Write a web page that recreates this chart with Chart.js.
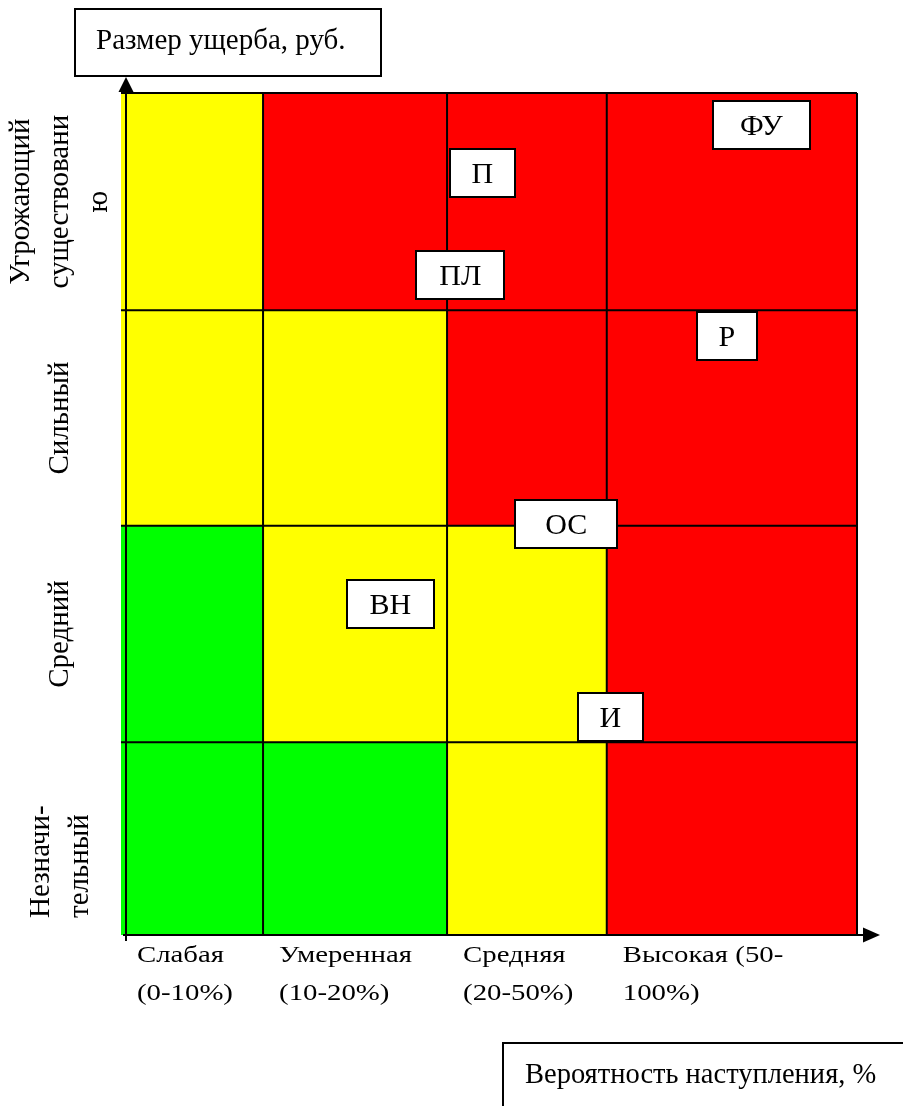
<!DOCTYPE html>
<html>
<head>
<meta charset="utf-8">
<script src="https://cdn.jsdelivr.net/npm/chart.js@4.4.1/dist/chart.umd.min.js"></script>
<style>
  html, body { margin: 0; padding: 0; background: #fff; }
  #wrap { width: 903px; height: 1106px; position: relative; }
</style>
</head>
<body>
<div id="wrap"><canvas id="chart-matrix"></canvas></div>
<script>
// axis units: 0..100 along each side of the matrix (not to scale, as in the source)
const colEdges = [0, 19.3, 44.3, 66.0, 100];
const rowEdges = [0, 22.9, 48.6, 74.2, 100];

const probLabels = [
  ['Слабая', '(0-10%)'],
  ['Умеренная', '(10-20%)'],
  ['Средняя', '(20-50%)'],
  ['Высокая (50-', '100%)'],
];
// bottom -> top
const damageLabels = [
  ['Незначи-', 'тельный'],
  ['Средний'],
  ['Сильный'],
  ['Угрожающий', 'существовани', 'ю'],
];

// zone of each cell, rows bottom -> top, cols left -> right (0 green, 1 yellow, 2 red)
const zones = [
  [0, 0, 1, 2],
  [0, 1, 1, 2],
  [1, 1, 2, 2],
  [1, 2, 2, 2],
];

const riskCodes = ['ФУ', 'П', 'ПЛ', 'Р', 'ОС', 'ВН', 'И'];
const riskX = [87.0, 49.1, 46.1, 82.3, 60.5, 36.6, 66.5];
const riskY = [96.2, 90.5, 78.4, 71.1, 48.8, 39.3, 25.9];

const yTitle = 'Размер ущерба, руб.';
const xTitle = 'Вероятность наступления, %';

// styles
const zoneColors = ['#00ff00', '#ffff00', '#ff0000'];
const boxWidths = [97, 65, 88, 60, 102, 87, 65];
const SERIF = '"Liberation Serif", "Times New Roman", serif';

function boxedText(ctx, text, left, top, w, h, tx, ty) {
  ctx.fillStyle = '#fff';
  ctx.fillRect(left, top, w, h);
  ctx.strokeStyle = '#000';
  ctx.lineWidth = 2;
  ctx.strokeRect(left, top, w, h);
  ctx.fillStyle = '#000';
  ctx.fillText(text, tx, ty);
}

const matrixPlugin = {
  id: 'matrix',
  beforeDatasetsDraw(chart) {
    const { ctx, chartArea: a, scales: { x, y } } = chart;
    ctx.save();

    zones.forEach((row, r) => {
      row.forEach((z, c) => {
        const x0 = x.getPixelForValue(colEdges[c]);
        const x1 = x.getPixelForValue(colEdges[c + 1]);
        const y0 = y.getPixelForValue(rowEdges[r + 1]);
        const y1 = y.getPixelForValue(rowEdges[r]);
        ctx.fillStyle = zoneColors[z];
        ctx.fillRect(x0, y0, x1 - x0, y1 - y0);
      });
    });

    ctx.strokeStyle = '#000';
    ctx.lineWidth = 2;
    ctx.beginPath();
    colEdges.slice(1).forEach(v => {
      const px = x.getPixelForValue(v);
      ctx.moveTo(px, a.top);
      ctx.lineTo(px, a.bottom);
    });
    rowEdges.slice(1).forEach(v => {
      const py = y.getPixelForValue(v);
      ctx.moveTo(a.left, py);
      ctx.lineTo(a.right, py);
    });
    // axes
    const ax = a.left + 5;
    ctx.moveTo(ax, a.bottom + 6);
    ctx.lineTo(ax, a.top - 2);
    ctx.moveTo(a.left + 2, a.bottom);
    ctx.lineTo(a.right + 7, a.bottom);
    ctx.stroke();

    ctx.fillStyle = '#000';
    ctx.beginPath();
    ctx.moveTo(ax, a.top - 16);
    ctx.lineTo(ax - 7.5, a.top - 1);
    ctx.lineTo(ax + 7.5, a.top - 1);
    ctx.closePath();
    ctx.fill();
    ctx.beginPath();
    ctx.moveTo(a.right + 23, a.bottom);
    ctx.lineTo(a.right + 6, a.bottom - 7.5);
    ctx.lineTo(a.right + 6, a.bottom + 7.5);
    ctx.closePath();
    ctx.fill();

    ctx.restore();
  },

  afterDatasetsDraw(chart) {
    const { ctx, chartArea: a, scales: { x, y } } = chart;
    ctx.save();

    // risk markers
    ctx.font = '30px ' + SERIF;
    ctx.textAlign = 'center';
    ctx.textBaseline = 'alphabetic';
    chart.getDatasetMeta(0).data.forEach((pt, i) => {
      const w = boxWidths[i];
      const h = 48;
      boxedText(ctx, riskCodes[i], Math.round(pt.x - w / 2), Math.round(pt.y - h / 2), w, h, pt.x, pt.y + 10);
    });

    // probability labels (stretched horizontally like the source)
    ctx.textAlign = 'left';
    ctx.font = '24px ' + SERIF;
    probLabels.forEach((lines, c) => {
      const px = x.getPixelForValue(colEdges[c]) + 16;
      lines.forEach((line, i) => {
        ctx.save();
        ctx.translate(px, a.bottom + 27 + i * 38);
        ctx.scale(1.2, 1);
        ctx.fillText(line, 0, 0);
        ctx.restore();
      });
    });

    // damage labels, rotated
    ctx.font = '29px ' + SERIF;
    damageLabels.forEach((lines, r) => {
      const top = y.getPixelForValue(rowEdges[r + 1]);
      const bottom = y.getPixelForValue(rowEdges[r]);
      const start = r === 0;
      lines.forEach((line, i) => {
        const bx = a.left - 53 + (i - (lines.length - 1) / 2) * 39;
        ctx.save();
        ctx.translate(bx, start ? bottom - 17 : (top + bottom) / 2);
        ctx.rotate(-Math.PI / 2);
        ctx.textAlign = start ? 'left' : 'center';
        ctx.fillText(line, 0, 0);
        ctx.restore();
      });
    });

    // axis titles
    ctx.textAlign = 'left';
    ctx.font = '29px ' + SERIF;
    boxedText(ctx, yTitle, 75, 9, 306, 67, 96, 49);
    ctx.font = '28.5px ' + SERIF;
    boxedText(ctx, xTitle, 503, 1043, 420, 80, 525, 1083);

    ctx.restore();
  },
};

new Chart(document.getElementById('chart-matrix'), {
  type: 'scatter',
  data: {
    datasets: [{
      label: 'Риски',
      data: riskCodes.map((_, i) => ({ x: riskX[i], y: riskY[i] })),
      pointRadius: 0,
      pointHoverRadius: 0,
    }],
  },
  options: {
    responsive: true,
    maintainAspectRatio: false,
    animation: false,
    events: [],
    layout: { padding: { left: 121, right: 46, top: 93, bottom: 171 } },
    scales: {
      x: { type: 'linear', min: 0, max: 100, display: false },
      y: { type: 'linear', min: 0, max: 100, display: false },
    },
    plugins: {
      legend: { display: false },
      tooltip: { enabled: false },
    },
  },
  plugins: [matrixPlugin],
});
</script>
</body>
</html>
